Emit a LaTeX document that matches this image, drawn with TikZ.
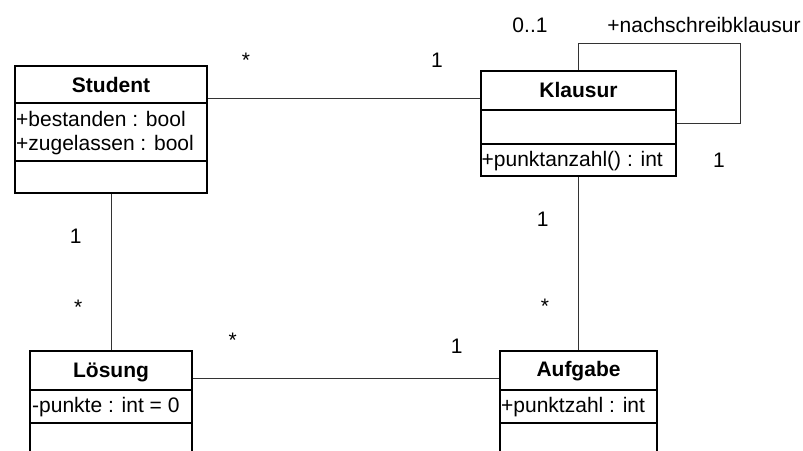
\documentclass[tikz,border=0pt]{standalone}
\usepackage{fontspec}
\setmainfont{Liberation Sans}
\begin{document}
\begin{tikzpicture}[x=1pt,y=-1pt,
  classbox/.style={draw=black,line width=1.6pt,inner sep=0pt},
  divider/.style={draw=black,line width=1.6pt},
  assoc/.style={draw=black!80,line width=1pt},
  ctitle/.style={font=\fontsize{21}{25}\selectfont\bfseries,anchor=base,inner sep=0pt},
  member/.style={font=\fontsize{21}{25}\selectfont,anchor=base west,inner sep=0pt},
  mult/.style={font=\fontsize{21}{25}\selectfont,anchor=base,inner sep=0pt}]
\useasboundingbox (0,0) rectangle (803,450);
\clip (0,0) rectangle (803,450);

% class boxes
\node[classbox,minimum width=192pt,minimum height=127pt] (student) at (111,129.5) {};
\node[classbox,minimum width=195pt,minimum height=105pt] (klausur) at (578.5,123.5) {};
\node[classbox,minimum width=162pt,minimum height=120pt] (loesung) at (111,411) {};
\node[classbox,minimum width=157pt,minimum height=120pt] (aufgabe) at (578.5,411) {};

% compartment dividers
\draw[divider] (student.west |- 0,103) -- (student.east |- 0,103);
\draw[divider] (student.west |- 0,161) -- (student.east |- 0,161);
\draw[divider] (klausur.west |- 0,110) -- (klausur.east |- 0,110);
\draw[divider] (klausur.west |- 0,144) -- (klausur.east |- 0,144);
\draw[divider] (loesung.west |- 0,390) -- (loesung.east |- 0,390);
\draw[divider] (loesung.west |- 0,423) -- (loesung.east |- 0,423);
\draw[divider] (aufgabe.west |- 0,390) -- (aufgabe.east |- 0,390);
\draw[divider] (aufgabe.west |- 0,423) -- (aufgabe.east |- 0,423);

% class names and members
\node[ctitle] (tStudent) at (111,92.5) {Student};
\node[member] (aBestanden) at (16,126) {+bestanden : bool};
\node[member] (aZugelassen) at (16,150) {+zugelassen : bool};
\node[ctitle] (tKlausur) at (578.5,97) {Klausur};
\node[member] (oPunktanzahl) at (481.5,166) {+punktanzahl() : int};
\node[ctitle] (tLoesung) at (111,377) {Lösung};
\node[member] (aPunkte) at (32,412) {-punkte : int = 0};
\node[ctitle] (tAufgabe) at (578.5,376) {Aufgabe};
\node[member] (aPunktzahl) at (501,412) {+punktzahl : int};

% associations
\draw[assoc] (student.east |- 0,98) -- (klausur.west |- 0,98);
\draw[assoc] (student.south) -- (loesung.north);
\draw[assoc] (loesung.east |- 0,378) -- (aufgabe.west |- 0,378);
\draw[assoc] (klausur.south) -- (aufgabe.north);
\coordinate (loopcorner) at (740,43);
\draw[assoc] (klausur.north) |- (loopcorner) |- (klausur.east |- 0,123);

% multiplicities and role name
\node[mult] (mSK1) at (246,67) {*};
\node[mult] (mSK2) at (437,67) {1};
\node[mult] (mLoop1) at (530,32) {0..1};
\node[mult] (role) at (704,32) {+nachschreibklausur};
\node[mult] (mLoop2) at (719,167) {1};
\node[mult] (mKA1) at (542.7,226) {1};
\node[mult] (mKA2) at (545,313) {*};
\node[mult] (mSL1) at (75.7,243) {1};
\node[mult] (mSL2) at (78.3,314) {*};
\node[mult] (mLA1) at (232.7,347) {*};
\node[mult] (mLA2) at (456.7,353) {1};
\end{tikzpicture}
\end{document}
